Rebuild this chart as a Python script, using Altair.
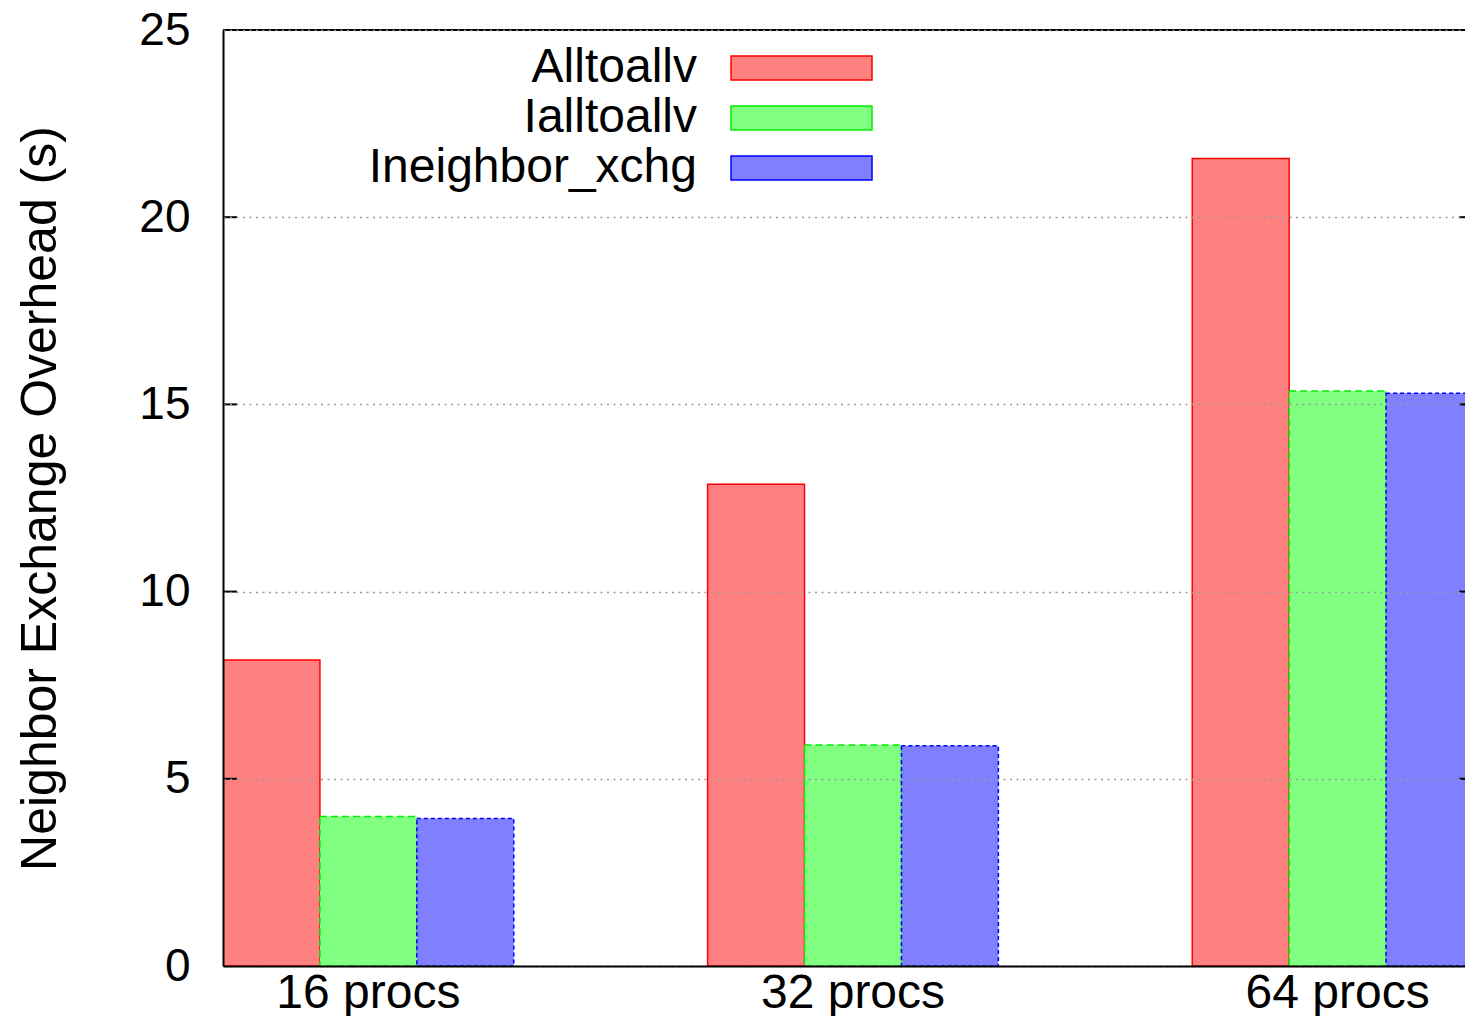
import altair as alt
import pandas as pd

groups = ["16 procs", "32 procs", "64 procs"]
series = ["Alltoallv", "Ialltoallv", "Ineighbor_xchg"]
alltoallv = [8.17, 12.87, 21.57]
ialltoallv = [3.99, 5.90, 15.36]
ineighbor = [3.94, 5.88, 15.30]
y_ticks = [0, 5, 10, 15, 20, 25]
inner_ticks = [5, 10, 15, 20]

fills = ["#ff8080", "#80ff80", "#8080ff"]
strokes = ["#ff0000", "#00ee00", "#0000ff"]
dashes = [[1, 0], [7, 4], [4, 3]]
FONT = "Liberation Sans"

rows = []
for s, vals in zip(series, [alltoallv, ialltoallv, ineighbor]):
    for g, v in zip(groups, vals):
        rows.append({"group": g, "series": s, "value": v})
df = pd.DataFrame(rows)
leg_df = pd.DataFrame({"series": series})
tick_df = pd.DataFrame({"v": inner_ticks})

fill_scale = alt.Scale(domain=series, range=fills)
stroke_scale = alt.Scale(domain=series, range=strokes)
dash_scale = alt.Scale(domain=series, range=dashes)

W, H = 1242, 936

bars = alt.Chart(df).mark_bar(clip=True, strokeWidth=1.5).encode(
    x=alt.X("group:N", sort=groups,
            scale=alt.Scale(range=[0, 1260], paddingInner=0.4, paddingOuter=0),
            axis=alt.Axis(title=None, labelAngle=0, labelFont=FONT, labelFontSize=48,
                          labelColor="black", labelPadding=3, labelLimit=600, ticks=False,
                          domainColor="black", domainWidth=2, zindex=1)),
    xOffset=alt.XOffset("series:N", sort=series, scale=alt.Scale(paddingInner=0, paddingOuter=0)),
    y=alt.Y("value:Q", scale=alt.Scale(domain=[0, 25], nice=False),
            axis=alt.Axis(values=y_ticks, grid=True, gridDash=[2, 4.5], gridColor="#9a9a9a",
                          gridWidth=1.5, ticks=False, domainColor="black", domainWidth=2,
                          labelFont=FONT, labelFontSize=46, labelColor="black", labelPadding=33,
                          title="Neighbor Exchange Overhead (s)", titleFont=FONT,
                          titleFontSize=50, titleFontWeight="normal", titleColor="black",
                          titleAngle=270, titleX=-168, titleY=H / 2, titleAlign="center",
                          titleBaseline="alphabetic", zindex=1)),
    fill=alt.Fill("series:N", scale=fill_scale, legend=None),
    stroke=alt.Stroke("series:N", scale=stroke_scale, legend=None),
    strokeDash=alt.StrokeDash("series:N", scale=dash_scale, legend=None),
    order=alt.Order("series:N"),
)

ticks_left = alt.Chart(tick_df).mark_rule(color="black", strokeWidth=2).encode(
    x=alt.value(0), x2=alt.value(14), y="v:Q")
ticks_right = alt.Chart(tick_df).mark_rule(color="black", strokeWidth=2).encode(
    x=alt.value(W - 6), x2=alt.value(W), y="v:Q")
top_line = alt.Chart(tick_df).mark_rule(color="black", strokeWidth=2).encode(
    x=alt.value(0), x2=alt.value(W), y=alt.value(0))

main = alt.layer(bars, ticks_left, ticks_right, top_line)

leg_y = alt.Y("series:N", sort=series,
              scale=alt.Scale(type="band", domain=series, range=[26, 150],
                              paddingInner=0.52, paddingOuter=0),
              axis=None)
leg_text = alt.Chart(leg_df).mark_text(align="right", baseline="middle", font=FONT,
                                       fontSize=48, color="black").encode(
    x=alt.value(474), y=leg_y, text="series:N")
leg_rect = alt.Chart(leg_df).mark_rect(strokeWidth=1.5).encode(
    x=alt.value(508), x2=alt.value(649), y=leg_y,
    fill=alt.Fill("series:N", scale=fill_scale, legend=None),
    stroke=alt.Stroke("series:N", scale=stroke_scale, legend=None),
    strokeDash=alt.StrokeDash("series:N", scale=dash_scale, legend=None),
)
legend = alt.layer(leg_text, leg_rect)

chart = alt.layer(main, legend).resolve_scale(y="independent").properties(
    width=W, height=H, autosize="none",
    padding={"left": 215, "top": 22, "right": 0, "bottom": 50},
).configure_view(stroke=None).configure(background="white")

chart.save("out.html", embed_options={"renderer": "svg", "actions": False})
